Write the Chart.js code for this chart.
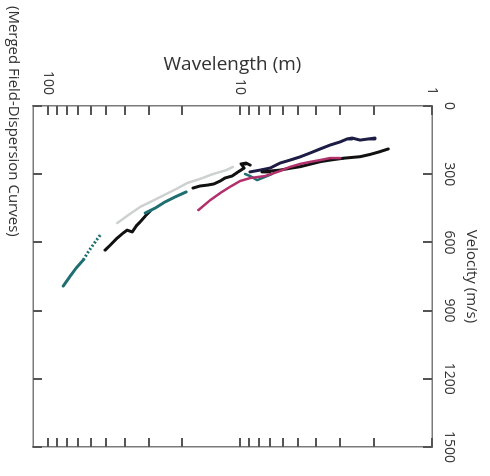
<!DOCTYPE html>
<html>
<head>
<meta charset="utf-8">
<script src="https://cdn.jsdelivr.net/npm/chart.js@4/dist/chart.umd.min.js"></script>
<style>
    html, body { margin: 0; padding: 0; background: #fff; width: 490px; height: 476px; overflow: hidden; }
    /* chart is drawn upright, then turned a quarter clockwise like the scan */
    #wrap { position: absolute; left: 0; top: 0; width: 476px; height: 490px;
            transform-origin: 0 0; transform: translate(490px, 0) rotate(90deg); }
</style>
</head>
<body>
<div id="wrap"><canvas id="dispChart" width="476" height="490"></canvas></div>
<script>
// Wavelength (m) and velocity (m/s)
const navyWavelength = [1.98, 2.15, 2.37, 2.61, 2.77, 3.01, 3.40, 3.83, 4.32, 4.87, 5.49, 6.19, 6.98, 7.87, 8.87];
const navyVelocity = [141, 145, 150, 141, 145, 158, 172, 189, 207, 224, 238, 251, 273, 282, 290];

const blackRightWavelength = [1.69, 1.87, 2.10, 2.37, 2.67, 2.91, 3.40, 3.83, 4.32, 4.87, 5.49, 6.19, 6.98, 7.68];
const blackRightVelocity = [189, 201, 213, 223, 227, 230, 238, 245, 256, 267, 274, 282, 286, 290];

const magentaWavelength = [3.01, 3.40, 3.83, 4.32, 4.87, 5.49, 6.19, 7.41, 8.87, 10.0, 11.3, 12.7, 14.3, 16.5];
const magentaVelocity = [229, 229, 238, 246, 255, 268, 286, 308, 317, 330, 356, 383, 414, 458];

const tealShortWavelength = [6.81, 7.41, 8.15, 8.87, 9.42];
const tealShortVelocity = [299, 312, 326, 308, 299];

const tealMidWavelength = [19.1, 21.8, 24.6, 27.7, 31.2];
const tealMidVelocity = [378, 400, 422, 449, 471];

const tealDotWavelength = [53.6, 56.9, 61.9, 65.7];
const tealDotVelocity = [568, 598, 642, 678];

const tealLowWavelength = [65.7, 71.5, 76.8, 83.5];
const tealLowVelocity = [678, 713, 748, 792];

const blackHookWavelength = [8.87, 9.31, 9.88, 9.53, 10.24, 11.0, 12.0, 12.7, 13.7, 14.8, 16.2, 17.6];
const blackHookVelocity = [260, 251, 255, 273, 290, 308, 317, 330, 343, 348, 352, 361];

const blackLowWavelength = [29.4, 31.2, 33.2, 34.8, 36.5, 38.8, 40.7, 43.7, 47.5, 50.5];
const blackLowVelocity = [462, 484, 510, 528, 554, 546, 559, 581, 612, 634];

const grayWavelength = [43.7, 38.3, 33.2, 28.7, 24.9, 21.5, 18.9, 16.2, 13.8, 11.8, 10.9];
const grayVelocity = [515, 480, 444, 418, 392, 365, 339, 321, 299, 282, 268];

// axis ticks
const wavelengthTicks = [1, 2, 3, 4, 5, 6, 7, 8, 9, 10, 20, 30, 40, 50, 60, 70, 80, 90, 100];
const wavelengthLabels = [1, 10, 100];
const velocityTicks = [0, 300, 600, 900, 1200, 1500];

const FONT = "'Open Sans', 'Noto Sans', sans-serif";
const TICK_LEN = 9;

function toPoints(wl, vel) {
    return wl.map((w, i) => ({ x: vel[i], y: w }));
}

function curve(wl, vel, color, width, extra) {
    return Object.assign({
        data: toPoints(wl, vel),
        showLine: true,
        borderColor: color,
        borderWidth: width,
        pointRadius: 0,
        tension: 0,
        borderJoinStyle: 'round',
        borderCapStyle: 'round',
        xAxisID: 'x',
        yAxisID: 'y'
    }, extra || {});
}

const setWavelengthTicks = (scale) => {
    scale.ticks = wavelengthTicks.map(v => ({ value: v }));
};
const setVelocityTicks = (scale) => {
    scale.ticks = velocityTicks.map(v => ({ value: v }));
};

// tick marks point into the plot on all four sides
const innerTicks = {
    id: 'innerTicks',
    afterDraw(chart) {
        const ctx = chart.ctx;
        const a = chart.chartArea;
        const xs = chart.scales.x;
        const ys = chart.scales.y;
        ctx.save();
        ctx.setLineDash([]);
        ctx.lineDashOffset = 0;
        ctx.strokeStyle = '#555';
        ctx.lineWidth = 2;
        velocityTicks.forEach(v => {
            const px = Math.round(xs.getPixelForValue(v));
            ctx.beginPath();
            ctx.moveTo(px, a.top); ctx.lineTo(px, a.top + TICK_LEN);
            ctx.moveTo(px, a.bottom); ctx.lineTo(px, a.bottom - TICK_LEN);
            ctx.stroke();
        });
        wavelengthTicks.forEach(v => {
            const py = Math.round(ys.getPixelForValue(v));
            ctx.beginPath();
            ctx.moveTo(a.left, py); ctx.lineTo(a.left + TICK_LEN, py);
            ctx.moveTo(a.right, py); ctx.lineTo(a.right - TICK_LEN, py);
            ctx.stroke();
        });
        ctx.restore();
    }
};

const noGrid = { display: false, drawTicks: false };
const axisBorder = { display: true, color: '#7a7a7a', width: 1.5 };

new Chart(document.getElementById('dispChart').getContext('2d'), {
    type: 'scatter',
    data: {
        datasets: [
            curve(grayWavelength, grayVelocity, '#cdd1d1', 2.5),
            curve(tealMidWavelength, tealMidVelocity, '#1f6f72', 3),
            curve(tealDotWavelength, tealDotVelocity, '#1f6f72', 3, { borderDash: [2, 2], borderCapStyle: 'butt' }),
            curve(tealLowWavelength, tealLowVelocity, '#1f6f72', 3),
            curve(blackLowWavelength, blackLowVelocity, '#111111', 3),
            curve(magentaWavelength, magentaVelocity, '#b2306c', 2.5),
            curve(tealShortWavelength, tealShortVelocity, '#1f6f72', 2.5),
            curve(blackRightWavelength, blackRightVelocity, '#111111', 3),
            curve(navyWavelength, navyVelocity, '#1c1c44', 3),
            curve(blackHookWavelength, blackHookVelocity, '#111111', 3)
        ]
    },
    options: {
        responsive: false,
        animation: false,
        layout: { autoPadding: false, padding: { left: 6, right: 0, top: 0, bottom: 0 } },
        plugins: {
            legend: { display: false },
            tooltip: { enabled: false },
            title: {
                display: true,
                text: '(Merged Field-Dispersion Curves)',
                position: 'bottom',
                align: 'start',
                color: '#333',
                font: { family: FONT, size: 15, weight: 'normal' },
                padding: { top: 11, bottom: 4 }
            }
        },
        scales: {
            x: {
                type: 'linear',
                position: 'top',
                min: 0,
                max: 1500,
                afterBuildTicks: setVelocityTicks,
                afterFit: (scale) => { scale.height = 58; },
                grid: noGrid,
                border: axisBorder,
                ticks: {
                    color: '#333', padding: 9, maxRotation: 0, autoSkip: false,
                    font: { family: FONT, size: 14 },
                    callback: (v) => String(v)
                },
                title: { display: true, text: 'Velocity (m/s)', color: '#333',
                         font: { family: FONT, size: 15 }, padding: { top: 10, bottom: 0 } }
            },
            y: {
                type: 'logarithmic',
                position: 'left',
                reverse: true,
                min: 1,
                max: 120,
                afterBuildTicks: setWavelengthTicks,
                afterFit: (scale) => { scale.width = 100; },
                grid: noGrid,
                border: axisBorder,
                ticks: {
                    color: '#333',
                    padding: 11,
                    autoSkip: false,
                    font: { family: FONT, size: 14 },
                    callback: (v) => wavelengthLabels.includes(v) ? String(v) : ''
                },
                title: { display: true, text: 'Wavelength (m)', color: '#333',
                         font: { family: FONT, size: 19 }, padding: { top: 47, bottom: 0 } }
            },
            x2: {
                type: 'linear',
                position: 'bottom',
                min: 0,
                max: 1500,
                afterFit: (scale) => { scale.height = 0; },
                grid: noGrid,
                border: axisBorder,
                ticks: { display: false }
            },
            y2: {
                type: 'logarithmic',
                position: 'right',
                reverse: true,
                min: 1,
                max: 120,
                afterFit: (scale) => { scale.width = 29; },
                grid: noGrid,
                border: axisBorder,
                ticks: { display: false }
            }
        }
    },
    plugins: [innerTicks]
});
</script>
</body>
</html>
